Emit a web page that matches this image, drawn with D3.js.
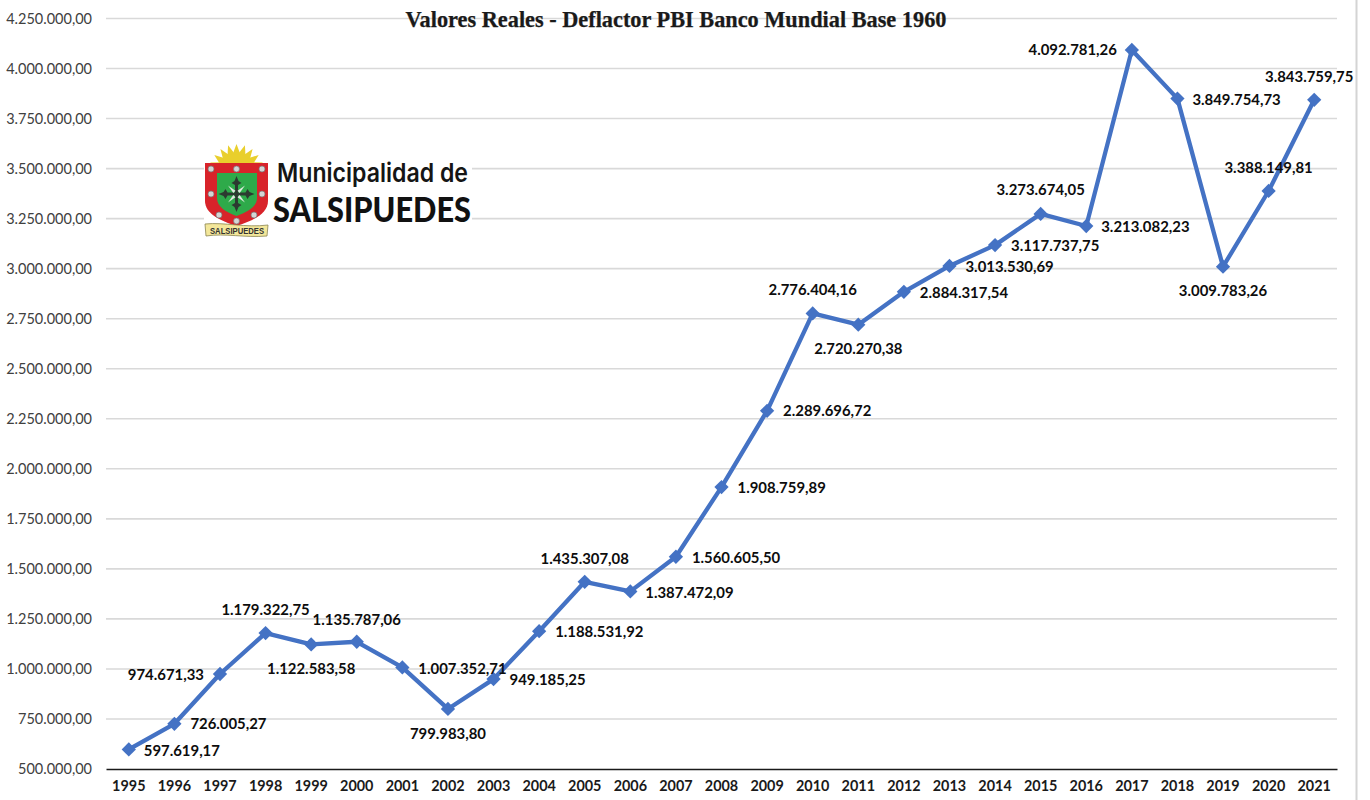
<!DOCTYPE html>
<html>
<head>
<meta charset="utf-8">
<script src="https://cdn.jsdelivr.net/npm/d3@7"></script>
<style>
	html, body { margin: 0; padding: 0; background: #fff; }
	svg { display: block; }
	.axis--y text { font: 14.5px Lato, sans-serif; fill: #404040; }
	.axis--x text { font: bold 14.4px Lato, sans-serif; fill: #1a1a1a; }
	.grid line { stroke: #d9d9d9; stroke-width: 1.6px; }
	.value-label { font: bold 14.9px Lato, sans-serif; fill: #0d0d0d; }
	.title { font: bold 22.3px "Liberation Serif", serif; fill: #1a1a1a; stroke: #1a1a1a; stroke-width: 0.25px; }
</style>
</head>
<body>
<div id="chart"></div>
<script>
var years = ["1995","1996","1997","1998","1999","2000","2001","2002","2003","2004","2005","2006","2007","2008","2009","2010","2011","2012","2013","2014","2015","2016","2017","2018","2019","2020","2021"];

var values = [597619.17, 726005.27, 974671.33, 1179322.75, 1122583.58, 1135787.06, 1007352.71, 799983.80, 949185.25, 1188531.92, 1435307.08, 1387472.09, 1560605.50, 1908759.89, 2289696.72, 2776404.16, 2720270.38, 2884317.54, 3013530.69, 3117737.75, 3273674.05, 3213082.23, 4092781.26, 3849754.73, 3009783.26, 3388149.81, 3843759.75];

// where each label sits relative to its point
var labelDx = [15, 16, -16, 0, 0, 0, 16, 0, 16, 16, 0, 15, 16, 16, 16, 0, 0, 16, 16, 16, 0, 15, -15, 15, 0, 0, -5];
var labelDy = [1, 0, 1, -23, 24, -22, 1, 25, 1, 1, -23, 1, 1, 1, 0, -24, 24, 1, 1, 1, -24, 1, 0, 1, 24, -23, -23];
var labelAnchor = ["start","start","end","middle","middle","middle","start","middle","start","start","middle","start","start","start","start","middle","middle","start","start","start","middle","start","end","start","middle","middle","middle"];

var yTicks = d3.range(500000, 4250001, 250000);

var width = 1370, height = 800;
var margin = { left: 106, right: 1337, top: 18.5, bottom: 769 };

var svg = d3.select("#chart").append("svg")
	.attr("width", width)
	.attr("height", height);

var x = d3.scaleBand().domain(years).range([margin.left, margin.right]);
var y = d3.scaleLinear().domain([500000, 4250000]).range([margin.bottom, margin.top]);

var formatEs = d3.formatLocale({ decimal: ",", thousands: ".", grouping: [3], currency: ["", ""] });
var formatValue = formatEs.format(",.2f");

// right edge of the window
svg.append("line")
	.attr("x1", 1356.5).attr("x2", 1356.5)
	.attr("y1", 0).attr("y2", height)
	.attr("stroke", "#d4d4d4").attr("stroke-width", 2);

// horizontal lines
svg.append("g")
	.attr("class", "grid")
	.selectAll("line")
	.data(yTicks.slice(1))
	.enter().append("line")
	.attr("x1", margin.left).attr("x2", margin.right)
	.attr("y1", function(d) { return y(d); })
	.attr("y2", function(d) { return y(d); });

// y axis
svg.append("g")
	.attr("class", "axis axis--y")
	.attr("transform", "translate(" + margin.left + ",0)")
	.call(d3.axisLeft(y).tickValues(yTicks).tickSize(0).tickPadding(14).tickFormat(formatValue))
	.call(function(g) { g.select(".domain").remove(); });

// x axis
svg.append("g")
	.attr("class", "axis axis--x")
	.attr("transform", "translate(0," + margin.bottom + ")")
	.call(d3.axisBottom(x).tickSize(0).tickPadding(12))
	.call(function(g) {
		g.select(".domain").attr("stroke", "#1a1a1a").attr("stroke-width", 1.6);
	});

// logo
var logo = svg.append("g").attr("class", "logo");

// white patch the picture sits on
logo.append("rect")
	.attr("x", 204).attr("y", 143).attr("width", 66).attr("height", 96)
	.attr("fill", "#fff");
logo.append("rect")
	.attr("x", 270).attr("y", 158).attr("width", 202).attr("height", 70)
	.attr("fill", "#fff");

logo.selectAll(".ray")
	.data(d3.range(-70, 71, 17.5))
	.enter().append("path")
	.attr("class", "ray")
	.attr("d", "M-6,-12 L0,-28 L6,-12 Z")
	.attr("fill", "#e9cf2c")
	.attr("transform", function(d) { return "translate(236.5,172) rotate(" + d + ")"; });
logo.append("circle")
	.attr("cx", 236.5).attr("cy", 172).attr("r", 18).attr("fill", "#e9cf2c");

logo.append("path")
	.attr("d", "M205,163 H268 V201 C268,214 252,221 236.5,226 C221,221 205,214 205,201 Z")
	.attr("fill", "#d8232a");
logo.append("path")
	.attr("d", "M217,173 H257 V198 C257,207 247,212 236.5,216 C226,212 217,207 217,198 Z")
	.attr("fill", "#2eaa4a");

logo.selectAll(".stud")
	.data([[211, 169], [236.5, 169], [262, 169], [211, 194], [262, 194], [219, 215], [236.5, 221], [254, 215]])
	.enter().append("circle")
	.attr("class", "stud")
	.attr("cx", function(d) { return d[0]; })
	.attr("cy", function(d) { return d[1]; })
	.attr("r", 3)
	.attr("fill", "#d5d5d5")
	.attr("stroke", "#777")
	.attr("stroke-width", 0.7);

// four fleury arms
logo.selectAll(".arm")
	.data([0, 90, 180, 270])
	.enter().append("path")
	.attr("class", "arm")
	.attr("d", "M-1.5,0 L-1.5,-9 L-5,-11 L-2,-13 L0,-18 L2,-13 L5,-11 L1.5,-9 L1.5,0 Z")
	.attr("fill", "#2c3a30")
	.attr("transform", function(d) { return "translate(236.5,194) rotate(" + d + ")"; });
logo.selectAll(".arm-light")
	.data([45, 135, 225, 315])
	.enter().append("path")
	.attr("class", "arm-light")
	.attr("d", "M-1.5,-3 L0,-12 L1.5,-3 Z")
	.attr("fill", "#dfe8df")
	.attr("transform", function(d) { return "translate(236.5,194) rotate(" + d + ")"; });

logo.append("path")
	.attr("d", "M205,224 C225,222 245,228 268,225 L267,236 C245,238 225,233 206,236 Z")
	.attr("fill", "#f3e79a")
	.attr("stroke", "#8a8450")
	.attr("stroke-width", 0.8);
logo.append("text")
	.attr("x", 237).attr("y", 234)
	.attr("text-anchor", "middle")
	.attr("textLength", 54)
	.attr("lengthAdjust", "spacingAndGlyphs")
	.style("font", "bold 8.5px 'Liberation Sans', sans-serif")
	.style("fill", "#333")
	.text("SALSIPUEDES");

logo.append("text")
	.attr("x", 277).attr("y", 182)
	.attr("textLength", 191)
	.attr("lengthAdjust", "spacingAndGlyphs")
	.style("font", "600 26px Inter, sans-serif")
	.style("fill", "#151515")
	.text("Municipalidad de");
logo.append("text")
	.attr("x", 273).attr("y", 222)
	.attr("textLength", 198)
	.attr("lengthAdjust", "spacingAndGlyphs")
	.style("font", "900 34px Lato, sans-serif")
	.style("fill", "#111")
	.text("SALSIPUEDES");

// the line
var line = d3.line()
	.x(function(d, i) { return x(years[i]) + x.bandwidth() / 2; })
	.y(function(d) { return y(d); });

svg.append("path")
	.datum(values)
	.attr("d", line)
	.attr("fill", "none")
	.attr("stroke", "#4472c4")
	.attr("stroke-width", 4.3)
	.attr("stroke-linejoin", "round")
	.attr("stroke-linecap", "round");

// diamonds
svg.selectAll(".point")
	.data(values)
	.enter().append("path")
	.attr("class", "point")
	.attr("d", d3.symbol().type(d3.symbolDiamond2).size(130))
	.attr("fill", "#4472c4")
	.attr("transform", function(d, i) { return "translate(" + (x(years[i]) + x.bandwidth() / 2) + "," + y(d) + ")"; });

// labels
svg.selectAll(".value-label")
	.data(values)
	.enter().append("text")
	.attr("class", "value-label")
	.attr("x", function(d, i) { return x(years[i]) + x.bandwidth() / 2 + labelDx[i]; })
	.attr("y", function(d, i) { return y(d) + labelDy[i]; })
	.attr("dy", "0.35em")
	.attr("text-anchor", function(d, i) { return labelAnchor[i]; })
	.text(function(d) { return formatValue(d); });

svg.append("text")
	.attr("class", "title")
	.attr("x", 676).attr("y", 27)
	.attr("text-anchor", "middle")
	.text("Valores Reales - Deflactor PBI Banco Mundial Base 1960");
</script>
</body>
</html>
